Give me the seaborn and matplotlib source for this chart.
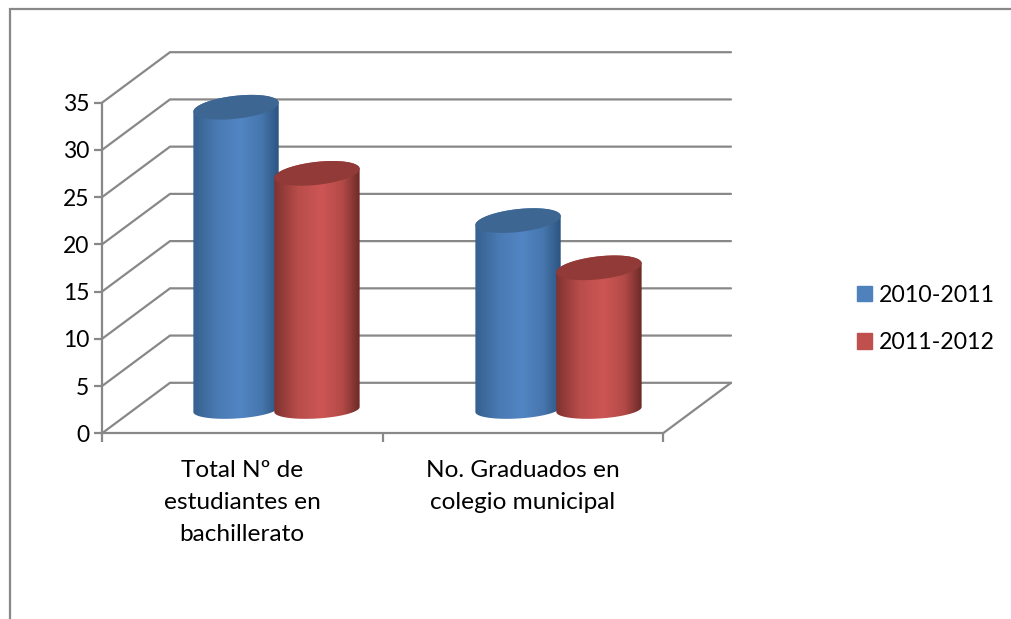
import numpy as np
import pandas as pd
import seaborn as sns
import matplotlib
matplotlib.use('Agg')
import matplotlib.pyplot as plt
from matplotlib.lines import Line2D
from matplotlib.patches import Patch, PathPatch
from matplotlib.path import Path
from matplotlib.colors import to_rgb

categorias = ['Total Nº de\nestudiantes en\nbachillerato', 'No. Graduados en\ncolegio municipal']
periodos = ['2010-2011', '2011-2012']
valores_2010 = [32, 20]
valores_2011 = [25, 15]
y_ticks = [0, 5, 10, 15, 20, 25, 30, 35]

W, H = 1011, 619
GRIS = '#888888'
colores = ['#4f81bd', '#c0504d']
# left edge .. highlight .. right edge of each cylinder, then the cap colour
sombras = {
    '2010-2011': (['#35608f', '#4a7ab3', '#5285c4', '#4676ad', '#2c5480'], '#3d6693'),
    '2011-2012': (['#7f3230', '#b84d4a', '#cd5654', '#b34a47', '#6b2a28'], '#913a38'),
}

sns.set_theme(style='white')
plt.rcParams['font.family'] = ['Lato', 'DejaVu Sans']

fig = plt.figure(figsize=(W / 100, H / 100), dpi=100)

# front plane of the 3D box: x 102..663, y 433..102.7 in pixels
ax_left, ax_bottom, ax_w, ax_h = 102, H - 433.3, 561, 330.6
ax = fig.add_axes([ax_left / W, ax_bottom / H, ax_w / W, ax_h / H])
ax.patch.set_alpha(0)
ax.set_xlim(-0.5, 1.5)
ax.set_ylim(0, 35)

px_x = 2 / ax_w      # data units per pixel
px_y = 35 / ax_h
dx, dy = 68 * px_x, 50.5 * px_y   # depth of the box

for v in y_ticks:
    ax.plot([-0.5, -0.5 + dx, 1.5 + dx], [v, v + dy, v + dy], color=GRIS, lw=1.6,
            clip_on=False, solid_joinstyle='miter')
ax.plot([1.5, 1.5 + dx], [0, dy], color=GRIS, lw=1.6, clip_on=False)

sns.despine(ax=ax)
for s in ['left', 'bottom']:
    ax.spines[s].set_color(GRIS)
    ax.spines[s].set_linewidth(1.6)
ax.set_yticks(y_ticks)
ax.set_xticks([0, 1])
ax.set_xticklabels(categorias)
ax.set_xticks([-0.5, 0.5, 1.5], minor=True)
ax.tick_params(axis='y', length=8.5 * 0.72, width=1.6, color=GRIS, left=True, labelsize=16.5,
               labelcolor='black', pad=3)
ax.tick_params(axis='x', which='major', length=0, labelsize=17.6, labelcolor='black', pad=19.5)
ax.tick_params(axis='x', which='minor', length=8.5 * 0.72, width=1.6, color=GRIS, bottom=True)
for t in ax.get_xticklabels():
    t.set_linespacing(1.63)
ax.set_xlabel('')
ax.set_ylabel('')

# cylinders stand half way into the box
bars_w = 564
ax_bars = fig.add_axes([135.5 / W, (ax_bottom + 23.8) / H, bars_w / W, ax_h / H])
ax_bars.patch.set_alpha(0)
df = pd.DataFrame({
    'categoria': categorias * 2,
    'periodo': [periodos[0]] * 2 + [periodos[1]] * 2,
    'valor': valores_2010 + valores_2011,
})
sns.barplot(data=df, x='categoria', y='valor', hue='periodo', palette=colores, saturation=1,
            width=0.574, errorbar=None, legend=False, ax=ax_bars)
ax_bars.set_xlim(-0.5, 1.5)
ax_bars.set_ylim(0, 35)
ax_bars.axis('off')

pad = 2.2 * 2 / bars_w
cap_b = 11.5 * px_y
cap_k = 4.5 * px_y
base_b = 9.0 * px_y
base_k = 2.5 * px_y
t_bot = np.linspace(np.pi, 2 * np.pi, 60)
t_top = np.linspace(0, np.pi, 60)
t_cap = np.linspace(0, 2 * np.pi, 120)

bars = list(ax_bars.patches)
hues = [periodos[0]] * 2 + [periodos[1]] * 2
for z, (bar, hue) in enumerate(zip(bars, hues)):
    bar.set_visible(False)
    x0, w, v = bar.get_x() - pad, bar.get_width() + 2 * pad, bar.get_height()
    cx, a = x0 + w / 2, w / 2
    stops, cap_col = sombras[hue]
    # side of the cylinder: lower half of the base ellipse + upper half of the top one
    xs = np.r_[cx + a * np.cos(t_bot), cx + a * np.cos(t_top)]
    ys = np.r_[base_b * np.sin(t_bot) + base_k * np.cos(t_bot),
               v + cap_b * np.sin(t_top) + cap_k * np.cos(t_top)]
    body = PathPatch(Path(np.c_[xs, ys]), fc='none', ec='none', zorder=3 + z * 0.1)
    ax_bars.add_patch(body)
    rgb = np.array([to_rgb(c) for c in stops])
    pos = np.linspace(0, 1, 200)
    grad = np.stack([np.interp(pos, [0, .28, .55, .8, 1], rgb[:, i]) for i in range(3)], axis=-1)
    im = ax_bars.imshow(grad[None, :, :], extent=[x0, x0 + w, -2, v + 2], aspect='auto',
                        interpolation='bilinear', zorder=3 + z * 0.1)
    im.set_clip_box(fig.bbox)
    im.set_clip_path(body)
    cap = PathPatch(Path(np.c_[cx + a * np.cos(t_cap), v + cap_b * np.sin(t_cap) + cap_k * np.cos(t_cap)]),
                    fc=cap_col, ec='none', zorder=3.05 + z * 0.1)
    ax_bars.add_patch(cap)
ax_bars.set_xlim(-0.5, 1.5)
ax_bars.set_ylim(0, 35)

handles = [Patch(color=c, label=p) for c, p in zip(colores, periodos)]
fig.legend(handles=handles, loc='center left', bbox_to_anchor=(850 / W, 1 - 319 / H), frameon=False,
           fontsize=16.7, handlelength=0.65, handleheight=0.65, handletextpad=0.3, labelspacing=1.14,
           borderpad=0.3, borderaxespad=0, labelcolor='black')

# frame of the embedded chart, only top and left are in the crop
fig.add_artist(Line2D([9.5 / W, 9.5 / W, 1], [0, 1 - 9 / H, 1 - 9 / H], color=GRIS, lw=1.6,
                      solid_joinstyle='miter'))

fig.savefig('out.png', dpi=100)
